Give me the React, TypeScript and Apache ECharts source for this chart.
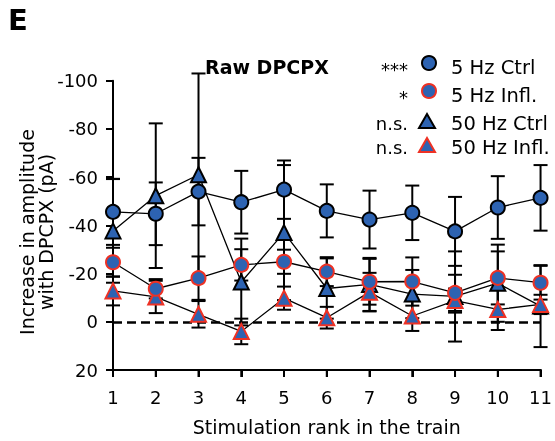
import React, { useEffect, useRef } from "react";
import * as echarts from "echarts";

const ranks = [1, 2, 3, 4, 5, 6, 7, 8, 9, 10, 11];
const ctrl5 = [-45.6, -44.8, -54, -49.6, -54.8, -46, -42.4, -45.2, -37.5, -47.4, -51.4];
const ctrl5Err = [13.7, 13, 14, 13, 12.1, 11, 12, 11.3, 14.3, 13, 13.6];
const infl5 = [-24.7, -13.7, -18.1, -23.6, -24.9, -20.8, -16.6, -16.7, -12, -18.2, -16.2];
const infl5Err = [6, 4, 9, 6.5, 5, 6, 9.5, 10, 7.5, 11, 7];
const ctrl50 = [-37.7, -52.3, -61, -16.5, -37, -13.8, -15.5, -11.5, -10.5, -16, -6.5];
const ctrl50Err = [21.5, 30, 42, 18, 28, 12.5, 11, 10, 18.7, 16, 17];
const infl50 = [-12.8, -10.3, -3.1, 4, -9.8, -1.7, -12.3, -2.4, -8.8, -5.1, -7.2];
const infl50Err = [6, 6.7, 5.5, 5.3, 4.8, 4.5, 8, 6.2, 5, 8.5, 4];

const legendNames = ["5 Hz Ctrl", "5 Hz Infl.", "50 Hz Ctrl", "50 Hz Infl."];
const legendStats = ["***", "*", "n.s.", "n.s."];

const BLUE = "#2d63b2";
const RED = "#ee3124";
const FONT = "DejaVu Sans";
const Y_MIN = -100;
const Y_MAX = 20;

export default function App() {
  const ref = useRef<HTMLDivElement>(null);
  useEffect(() => {
    if (!ref.current) return;
    const chart = echarts.init(ref.current, null, { renderer: "svg" });

    const pairs = (vals: number[]) => vals.map((v, i) => [ranks[i], v]);

    const errSeries = (vals: number[], errs: number[], z: number) => ({
      type: "custom",
      z,
      encode: { x: 0, y: 1 },
      data: vals.map((v, i) => [ranks[i], v, errs[i]]),
      renderItem: (_p: any, api: any) => {
        const x = api.value(0);
        const v = api.value(1);
        const e = api.value(2);
        const t = api.coord([x, v - e]);
        const b = api.coord([x, v + e]);
        const hw = 7;
        const st = { stroke: "#000", lineWidth: 2 };
        return {
          type: "group",
          children: [
            { type: "line", shape: { x1: t[0], y1: t[1], x2: b[0], y2: b[1] }, style: st },
            { type: "line", shape: { x1: t[0] - hw, y1: t[1], x2: t[0] + hw, y2: t[1] }, style: st },
            { type: "line", shape: { x1: b[0] - hw, y1: b[1], x2: b[0] + hw, y2: b[1] }, style: st },
          ],
        };
      },
    });

    // bottom axis line and ticks, drawn through the axis scales
    const bottomAxisSeries = {
      type: "custom",
      z: 1,
      encode: { x: 0, y: 1 },
      data: [[ranks[0], Y_MAX]],
      renderItem: (_p: any, api: any) => {
        const st = { stroke: "#000", lineWidth: 2 };
        const a = api.coord([ranks[0], Y_MAX]);
        const b = api.coord([ranks[ranks.length - 1], Y_MAX]);
        const children: any[] = [
          { type: "line", shape: { x1: a[0] - 1, y1: a[1], x2: b[0] + 1, y2: b[1] }, style: st },
        ];
        ranks.forEach((r) => {
          const p = api.coord([r, Y_MAX]);
          children.push({ type: "line", shape: { x1: p[0], y1: p[1], x2: p[0], y2: p[1] + 7 }, style: st });
        });
        return { type: "group", children };
      },
    };

    const lineSeries = (vals: number[], extra: any = {}) => ({
      type: "line",
      z: 2,
      data: pairs(vals),
      showSymbol: false,
      symbol: "none",
      lineStyle: { color: "#000", width: 1.3 },
      ...extra,
    });

    const markSeries = (vals: number[], symbol: string, border: string, z: number) => ({
      type: "scatter",
      z,
      data: pairs(vals),
      symbol,
      symbolSize: symbol === "circle" ? 14 : 15,
      itemStyle: { color: BLUE, borderColor: border, borderWidth: 2, opacity: 1 },
    });

    const legendRows = [
      { y: 63, sym: "circle", border: "#000" },
      { y: 91, sym: "circle", border: RED },
      { y: 122, sym: "tri", border: "#000" },
      { y: 146, sym: "tri", border: RED },
    ];

    const graphic: any[] = [
      {
        type: "text",
        left: 8,
        top: 5,
        style: { text: "E", font: `bold 29px ${FONT}`, fill: "#000" },
      },
      {
        type: "text",
        x: 205,
        y: 67,
        style: {
          text: "Raw DPCPX",
          font: `bold 19px ${FONT}`,
          fill: "#000",
          textAlign: "left",
          textVerticalAlign: "middle",
        },
      },
      {
        type: "text",
        x: 36,
        y: 232,
        rotation: Math.PI / 2,
        style: {
          text: "Increase in amplitude\nwith DPCPX (pA)",
          font: `19px ${FONT}`,
          lineHeight: 19,
          fill: "#000",
          textAlign: "center",
          textVerticalAlign: "middle",
        },
      },
    ];
    legendRows.forEach((r, i) => {
      const textY = r.sym === "circle" ? r.y + 4 : r.y + 1;
      graphic.push({
        type: "text",
        x: 408,
        y: i < 2 ? textY + 2 : textY,
        style: {
          text: legendStats[i],
          font: `18px ${FONT}`,
          fill: "#000",
          textAlign: "right",
          textVerticalAlign: "middle",
        },
      });
      graphic.push({
        type: "text",
        x: 451,
        y: textY,
        style: {
          text: legendNames[i],
          font: `19.5px ${FONT}`,
          fill: "#000",
          textAlign: "left",
          textVerticalAlign: "middle",
        },
      });
      if (r.sym === "circle") {
        graphic.push({
          type: "circle",
          shape: { cx: 429, cy: r.y, r: 7 },
          style: { fill: BLUE, stroke: r.border, lineWidth: 2 },
        });
      } else {
        graphic.push({
          type: "polygon",
          shape: { points: [[427, r.y - 8], [419, r.y + 6], [435, r.y + 6]] },
          style: { fill: BLUE, stroke: r.border, lineWidth: 2 },
        });
      }
    });

    chart.setOption({
      animation: false,
      grid: { left: 113, right: 12, top: 80.7, bottom: 70.3 },
      xAxis: {
        type: "value",
        min: 1,
        max: 11,
        interval: 1,
        axisLine: { show: true, onZero: false, lineStyle: { color: "#000", width: 2 } },
        axisTick: { show: true, length: 7, lineStyle: { color: "#000", width: 2 } },
        axisLabel: { color: "#000", fontSize: 18, fontFamily: FONT, margin: 18 },
        name: "Stimulation rank in the train",
        nameLocation: "middle",
        nameGap: 47,
        nameTextStyle: { color: "#000", fontSize: 19, fontFamily: FONT },
        splitLine: { show: false },
      },
      yAxis: {
        type: "value",
        inverse: true,
        min: Y_MIN,
        max: Y_MAX,
        interval: 20,
        axisLine: { show: true, lineStyle: { color: "#000", width: 2 } },
        axisTick: { show: true, length: 7, lineStyle: { color: "#000", width: 2 } },
        axisLabel: { color: "#000", fontSize: 18, fontFamily: FONT, margin: 15 },
        splitLine: { show: false },
      },
      graphic,
      series: [
        bottomAxisSeries,
        lineSeries(ctrl50, {
          markLine: {
            silent: true,
            symbol: "none",
            z: 1,
            label: { show: false },
            lineStyle: { color: "#000", width: 2.6, type: [9, 5] },
            data: [{ yAxis: 0 }],
          },
        }),
        lineSeries(infl50),
        lineSeries(ctrl5),
        lineSeries(infl5),
        errSeries(ctrl50, ctrl50Err, 3),
        errSeries(infl50, infl50Err, 3),
        errSeries(ctrl5, ctrl5Err, 3),
        errSeries(infl5, infl5Err, 3),
        markSeries(ctrl50, "triangle", "#000", 4),
        markSeries(infl50, "triangle", RED, 5),
        markSeries(ctrl5, "circle", "#000", 6),
        markSeries(infl5, "circle", RED, 7),
      ],
    });
    return () => chart.dispose();
  }, []);
  return (
    <div
      ref={ref}
      style={{ position: "fixed", left: 0, top: 0, width: 555, height: 441 }}
    />
  );
}
